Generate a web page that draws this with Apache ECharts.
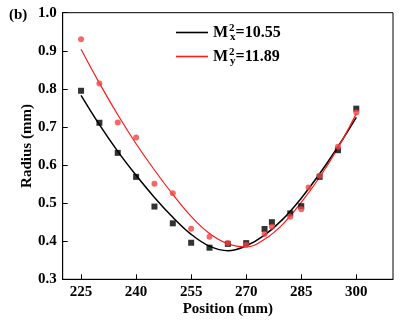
<!DOCTYPE html>
<html><head><meta charset="utf-8">
<script src="https://cdn.jsdelivr.net/npm/echarts@6/dist/echarts.min.js"></script>
<style>html,body{margin:0;padding:0;background:#fff}#c{width:408px;height:321px}</style>
</head><body><div id="c"></div>
<script>
// measured points, x-direction (black squares)
const posX = [225,230,235,240,245,250,255,260,265,270,275,277,282,285,290,295,300];
const radX = [0.795,0.711,0.632,0.569,0.491,0.447,0.396,0.383,0.393,0.395,0.432,0.450,0.473,0.492,0.569,0.639,0.748];
// measured points, y-direction (red circles)
const posY = [225,230,235,240,245,250,255,260,265,270,275,277,282,285,287,290,295,300];
const radY = [0.930,0.814,0.712,0.672,0.551,0.526,0.433,0.412,0.395,0.390,0.419,0.438,0.464,0.484,0.541,0.572,0.648,0.738];
// fitted curves
const fitPos = [225,230,235,240,245,250,255,260,265,270,275,280,285,290,295,300];
const fitX = [0.783,0.706,0.636,0.573,0.515,0.463,0.418,0.387,0.375,0.388,0.416,0.458,0.513,0.577,0.648,0.725];
const fitY = [0.904,0.815,0.732,0.656,0.587,0.523,0.465,0.420,0.393,0.385,0.405,0.445,0.502,0.568,0.645,0.735];
const xTicks = [225,240,255,270,285,300];
const legendNames = ['M2x=10.55','M2y=11.89'];

const zip = (a,b) => a.map((v,i)=>[v,b[i]]);
const font = 'Liberation Serif, Times New Roman, serif';
const chart = echarts.init(document.getElementById('c'));
chart.setOption({
  animation:false,
  backgroundColor:'#fff',
  grid:{left:62.7,right:15,top:12.7,bottom:41.7,outerBoundsMode:'none',containLabel:false,show:true,borderColor:'#000',borderWidth:1,backgroundColor:'transparent'},
  legend:{
    orient:'vertical',left:176,top:22.5,padding:0,itemWidth:32,itemHeight:1.6,itemGap:4,icon:'rect',
    data:[{name:legendNames[0],itemStyle:{color:'#000'}},{name:legendNames[1],itemStyle:{color:'#ff1a1a'}}],
    formatter:(n)=>{
      const m = n.match(/^M2(.)=(.*)$/);
      return '{m|M}{sup|2}{sub|'+m[1]+'}{m|='+m[2]+'}';
    },
    textStyle:{
      padding:[0,0,0,0],
      rich:{
        m:{fontFamily:font,fontWeight:'bold',fontSize:16,color:'#000'},
        sup:{fontFamily:font,fontWeight:'bold',fontSize:11,color:'#000',width:0,padding:[0,0,9,1]},
        sub:{fontFamily:font,fontWeight:'bold',fontSize:11,color:'#000',padding:[9,0,0,1]}
      }
    }
  },
  xAxis:{
    type:'value',min:220,max:310,
    name:'Position (mm)',nameLocation:'middle',nameGap:22,nameMoveOverlap:false,
    nameTextStyle:{fontFamily:font,fontWeight:'bold',fontSize:15,color:'#000'},
    axisLine:{lineStyle:{color:'#000',width:1}},
    axisTick:{inside:true,length:5,lineStyle:{color:'#000'},customValues:xTicks},
    axisLabel:{customValues:xTicks,fontFamily:font,fontWeight:'bold',fontSize:15,color:'#000',margin:5},
    splitLine:{show:false}
  },
  yAxis:{
    type:'value',min:0.3,max:1.0,interval:0.1,
    name:'Radius (mm)',nameLocation:'middle',nameGap:28,nameMoveOverlap:false,
    nameTextStyle:{fontFamily:font,fontWeight:'bold',fontSize:15,color:'#000'},
    axisLine:{lineStyle:{color:'#000',width:1}},
    axisTick:{inside:true,length:5,lineStyle:{color:'#000'}},
    axisLabel:{formatter:v=>v.toFixed(1),fontFamily:font,fontWeight:'bold',fontSize:15,color:'#000',margin:6},
    splitLine:{show:false}
  },
  graphic:[{type:'text',left:9,top:8,style:{text:'(b)',fontFamily:font,fontWeight:'bold',fontSize:15,fill:'#000'}}],
  series:[
    {name:legendNames[0],type:'line',data:zip(fitPos,fitX),smooth:0.4,symbol:'none',lineStyle:{color:'#000',width:1.5},itemStyle:{color:'#000'},z:2},
    {name:legendNames[1],type:'line',data:zip(fitPos,fitY),smooth:0.4,symbol:'none',lineStyle:{color:'#ff1a1a',width:1.2},itemStyle:{color:'#ff1a1a'},z:3},
    {name:'ptsX',type:'scatter',data:zip(posX,radX),symbol:'rect',symbolSize:6,itemStyle:{color:'#000'},z:4},
    {name:'ptsY',type:'scatter',data:zip(posY,radY),symbol:'circle',symbolSize:6,itemStyle:{color:'#f24444'},z:5}
  ]
});
</script></body></html>
